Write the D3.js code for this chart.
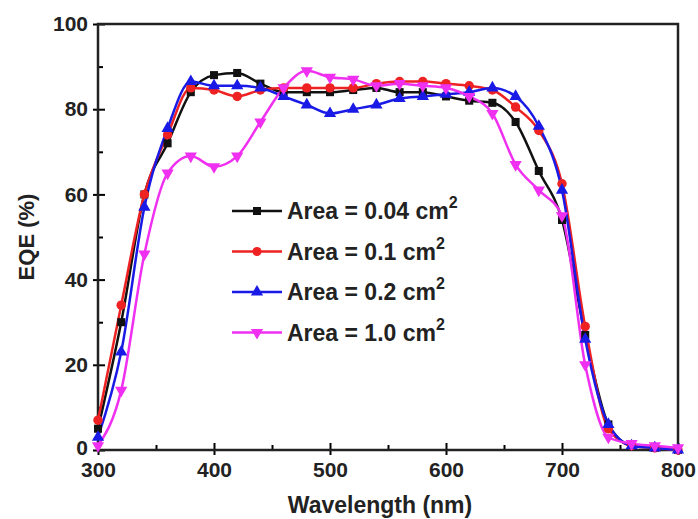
<!DOCTYPE html>
<html>
<head>
<meta charset="utf-8">
<script src="https://cdn.jsdelivr.net/npm/d3@7"></script>
<style>
  body { margin: 0; background: #fff; }
  text { font-family: "Liberation Sans", Arial, sans-serif; font-weight: bold; }
</style>
</head>
<body>
<div id="chart"></div>
<script>
// wavelengths, nm
var wavelengths = [300,320,340,360,380,400,420,440,460,480,500,520,540,560,580,600,620,640,660,680,700,720,740,760,780,800];

// EQE (%) for each device area
var area004 = [5,30,60,72,84,88,88.5,86,84,84,84,84.5,85,84,84,83,82,81.5,77,65.5,54,27,6,1,0.5,0];
var area01  = [7,34,60,74,85,84.5,83,84.5,85,85,85,85,86,86.5,86.5,86,85.5,84.5,80.5,75,62.5,29,5,1,0.5,0];
var area02  = [3,23,57,75.5,86.5,85.5,85.5,85,83,81,79,80,81,82.5,83,83.5,84,85,83,76,61,26,6,1,0.5,0];
var area10  = [1,14,46,65,69,66.5,69,77,85,89,87.5,87,85.5,86,85.5,85,83,79,67,61,55,20,3,1.5,1,0.5];

var seriesNames = ["Area = 0.04 cm", "Area = 0.1 cm", "Area = 0.2 cm", "Area = 1.0 cm"];
var seriesColors = ["#111111", "#ee2222", "#1a1ae6", "#f030f0"];
var seriesSymbols = [d3.symbolSquare, d3.symbolCircle, d3.symbolTriangle, d3.symbolTriangle];

var xTicks = [300,400,500,600,700,800];
var yTicks = [0,20,40,60,80,100];

var W = 698, H = 519;
var margin = {top: 24, right: 20, bottom: 69, left: 98};
var w = W - margin.left - margin.right,
    h = H - margin.top - margin.bottom;

var svg = d3.select("#chart").append("svg")
  .attr("width", W)
  .attr("height", H);

var g = svg.append("g")
  .attr("transform", "translate(" + margin.left + "," + margin.top + ")");

var x = d3.scaleLinear().domain([300, 800]).range([0, w]);
var y = d3.scaleLinear().domain([0, 100]).range([h, 0]);

var allSeries = [area004, area01, area02, area10].map(function(vals, i){
  return {
    name: seriesNames[i],
    color: seriesColors[i],
    symbol: seriesSymbols[i],
    flip: i == 3,
    vals: vals.map(function(v, j){ return {wl: wavelengths[j], eqe: v}; })
  };
});

// minor ticks, inward
g.append("g")
  .call(d3.axisBottom(x).tickValues(d3.range(350, 800, 100)).tickSize(-5).tickFormat(""))
  .attr("transform", "translate(0," + h + ")")
  .call(function(a){ a.select(".domain").remove(); a.selectAll("line").attr("stroke-width", 2); });
g.append("g")
  .call(d3.axisLeft(y).tickValues(d3.range(10, 100, 20)).tickSize(-5).tickFormat(""))
  .call(function(a){ a.select(".domain").remove(); a.selectAll("line").attr("stroke-width", 2); });

// major ticks: in and out
var xAxis = g.append("g")
  .attr("transform", "translate(0," + h + ")")
  .call(d3.axisBottom(x).tickValues(xTicks).tickSizeInner(5).tickSizeOuter(0).tickPadding(7));
xAxis.selectAll(".tick line").attr("y1", -7).attr("stroke-width", 2);
xAxis.selectAll("text").style("font-size", "21px").attr("fill", "#222");

var yAxis = g.append("g")
  .call(d3.axisLeft(y).tickValues(yTicks).tickSizeInner(5).tickSizeOuter(0).tickPadding(5));
yAxis.selectAll(".tick line").attr("x1", 7).attr("stroke-width", 2);
yAxis.selectAll("text").style("font-size", "21px").attr("fill", "#222");
yAxis.selectAll(".tick").filter(function(d){ return d === 0; }).select("text").attr("dy", "0.2em");
svg.selectAll(".domain").remove();

// frame
g.append("rect")
  .attr("width", w).attr("height", h)
  .attr("fill", "none").attr("stroke", "#222").attr("stroke-width", 2.5);

var line = d3.line()
  .curve(d3.curveMonotoneX)
  .x(function(d){ return x(d.wl); })
  .y(function(d){ return y(d.eqe); });

var plot = g.append("g");
allSeries.forEach(function(s){
  plot.append("path")
    .attr("d", line(s.vals))
    .attr("fill", "none")
    .attr("stroke", s.color)
    .attr("stroke-width", 2.5);
});
allSeries.forEach(function(s){
  plot.selectAll(null)
    .data(s.vals)
    .enter().append("path")
    .attr("d", d3.symbol().type(s.symbol).size(s.symbol === d3.symbolCircle ? 70 : 65))
    .attr("transform", function(d){
      return "translate(" + x(d.wl) + "," + y(d.eqe) + ")" + (s.flip ? " rotate(180)" : "");
    })
    .attr("fill", s.color);
});

// legend
var legend = svg.append("g").attr("transform", "translate(232,211)");
allSeries.forEach(function(s, i){
  var row = legend.append("g").attr("transform", "translate(0," + (i * 40.5) + ")");
  row.append("line").attr("x1", 0).attr("x2", 50).attr("y1", 0).attr("y2", 0)
    .attr("stroke", s.color).attr("stroke-width", 2.5);
  row.append("path")
    .attr("d", d3.symbol().type(s.symbol).size(65))
    .attr("transform", "translate(25,0)" + (s.flip ? " rotate(180)" : ""))
    .attr("fill", s.color);
  var t = row.append("text").attr("x", 55).attr("y", 8)
    .style("font-size", "23px").attr("fill", "#222");
  t.append("tspan").text(s.name);
  t.append("tspan").attr("dy", -11).style("font-size", "16px").text("2");
});

// axis titles
svg.append("text")
  .attr("transform", "translate(34," + (margin.top + h / 2) + ") rotate(-90)")
  .attr("text-anchor", "middle")
  .style("font-size", "22px").attr("fill", "#222")
  .text("EQE (%)");
svg.append("text")
  .attr("x", margin.left + w / 2 - 8).attr("y", 513)
  .attr("text-anchor", "middle")
  .style("font-size", "23px").attr("fill", "#222")
  .text("Wavelength (nm)");
</script>
</body>
</html>
